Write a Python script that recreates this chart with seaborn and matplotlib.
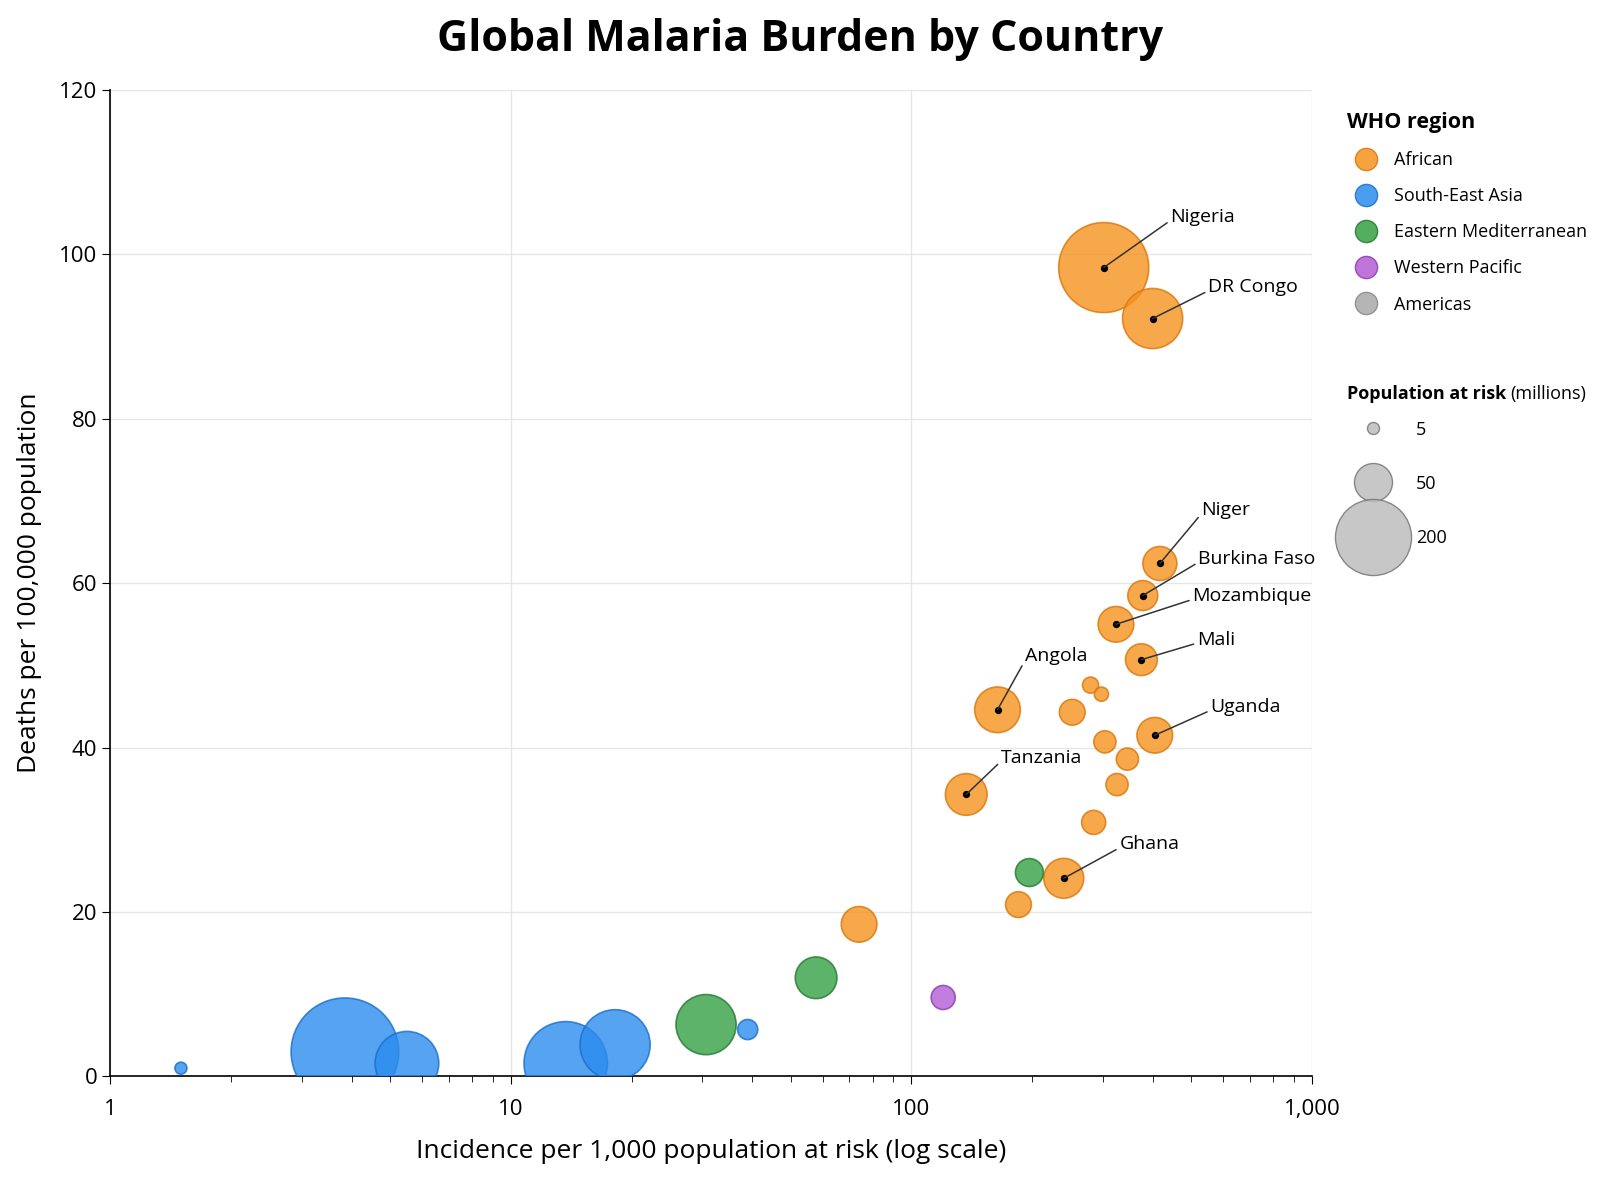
import numpy as np
import pandas as pd
import seaborn as sns
import matplotlib.pyplot as plt
from matplotlib.lines import Line2D

sns.set_style("whitegrid", {'text.color': 'black', 'axes.labelcolor': 'black',
                            'xtick.color': 'black', 'ytick.color': 'black'})
plt.rcParams['font.family'] = ['Open Sans', 'DejaVu Sans']

# data
country = ['', '', '', '', '', '',
           '', '', '', '',
           '', '', 'Ghana', '', '', 'Tanzania', '', '', 'Uganda', '', 'Angola', '', '',
           'Mali', 'Mozambique', 'Burkina Faso', 'Niger', 'DR Congo', 'Nigeria']
region = ['South-East Asia'] * 6 + ['Eastern Mediterranean'] * 3 + ['Western Pacific'] + ['African'] * 19
incidence = [1.5, 3.85, 5.5, 13.7, 18.2, 39,
             30.7, 57.8, 197, 120,
             74, 185, 240, 285, 326, 137, 304, 346, 405, 252, 164, 280, 298,
             375, 324, 378, 417, 400, 302]
deaths = [1.0, 3.0, 1.6, 1.6, 3.85, 5.7,
          6.3, 12.0, 24.8, 9.6,
          18.5, 20.9, 24.1, 30.9, 35.5, 34.3, 40.7, 38.6, 41.5, 44.3, 44.6, 47.6, 46.5,
          50.7, 55.0, 58.5, 62.4, 92.2, 98.4]
pop_risk = [5, 400, 140, 240, 170, 14,
            125, 60, 27, 20,
            44, 23, 55, 20, 17, 60, 17, 17, 44, 23, 72, 9, 7,
            35, 44, 31, 40, 125, 280]

# label offsets (points)
offsets = {'Nigeria': (48, 30), 'DR Congo': (40, 16), 'Niger': (30, 32), 'Burkina Faso': (40, 20),
           'Mozambique': (55, 14), 'Mali': (40, 8), 'Uganda': (40, 14), 'Angola': (20, 32),
           'Tanzania': (25, 20), 'Ghana': (40, 18)}

colors = {'African': '#F5921E', 'South-East Asia': '#2B8CEE', 'Eastern Mediterranean': '#35A043',
          'Western Pacific': '#B45CD6', 'Americas': '#A8A8A8'}
edges = {'African': '#D9770A', 'South-East Asia': '#1A6FCC', 'Eastern Mediterranean': '#247A30',
         'Western Pacific': '#8A3DAD', 'Americas': '#888888'}

df = pd.DataFrame({'country': country, 'region': region, 'inc': incidence,
                   'deaths': deaths, 'pop': pop_risk})
df = df.sort_values('pop', ascending=False)

K = 15.0  # marker area per million
fig = plt.figure(figsize=(16, 12), dpi=100)
ax = fig.add_axes([0.069, 0.103, 0.751, 0.822])
sns.scatterplot(data=df, x='inc', y='deaths', hue='region', palette=colors, size='pop',
                sizes=(K * df['pop'].min(), K * df['pop'].max()), legend=False,
                edgecolor=[edges[r] for r in df['region']], linewidth=1.2, alpha=0.8,
                zorder=3, ax=ax)

for _, row in df[df['country'] != ''].iterrows():
    ax.scatter(row['inc'], row['deaths'], s=18, color='black', zorder=5)
    ax.annotate(row['country'], (row['inc'], row['deaths']), xytext=offsets[row['country']],
                textcoords='offset points', fontsize=14, va='bottom', ha='left',
                arrowprops=dict(arrowstyle='-', color='#333333', lw=1.1,
                                shrinkA=0, shrinkB=0, relpos=(0, 0.3)), zorder=6)

ax.set_xscale('log')
ax.set_xlim(1, 1000)
ax.set_ylim(0, 120)
ax.set_xticks([1, 10, 100, 1000])
ax.set_xticklabels(['1', '10', '100', '1,000'])
ax.set_yticks(range(0, 121, 20))
ax.tick_params(labelsize=16)
ax.tick_params(axis='x', which='both', bottom=True, length=6, pad=10)
ax.tick_params(axis='x', which='minor', length=4)
ax.tick_params(axis='y', left=True, length=6)
ax.grid(True, which='major', color='#E6E6E6', lw=1)
ax.grid(False, which='minor')
for s in ['top', 'right']:
    ax.spines[s].set_visible(False)
for s in ['left', 'bottom']:
    ax.spines[s].set_color('black')
    ax.spines[s].set_linewidth(1.2)
ax.set_xlabel('Incidence per 1,000 population at risk (log scale)', fontsize=19, labelpad=14)
ax.set_ylabel('Deaths per 100,000 population', fontsize=19, labelpad=12)
fig.suptitle('Global Malaria Burden by Country', fontsize=31, fontweight='bold', y=0.985)

handles = [Line2D([], [], marker='o', ls='', markersize=16, markerfacecolor=colors[r],
                  markeredgecolor=edges[r], alpha=0.85, label=r) for r in colors]
leg1 = fig.legend(handles=handles, title='WHO region', loc='upper left',
                  bbox_to_anchor=(0.832, 0.92), frameon=False, fontsize=13,
                  title_fontproperties={'size': 15.5, 'weight': 'bold'}, labelspacing=1.0,
                  handletextpad=0.6)
leg1._legend_box.align = 'left'

# size legend title: bold part + normal part
t1 = fig.text(0.842, 0.672, 'Population at risk', fontsize=13, fontweight='bold', va='center')
fig.canvas.draw()
bb = t1.get_window_extent()
x2 = (bb.x1 + 4) / fig.bbox.width
fig.text(x2, 0.672, '(millions)', fontsize=13, va='center')

size_handles = [Line2D([], [], marker='o', ls='', markersize=np.sqrt(p * K),
                       markerfacecolor='#BDBDBD', markeredgecolor='#777777', alpha=0.85,
                       label=str(p)) for p in [5, 50, 200]]
leg2 = fig.legend(handles=size_handles, loc='upper left', bbox_to_anchor=(0.832, 0.66),
                  frameon=False, fontsize=13, labelspacing=2.0, handletextpad=0.8,
                  borderpad=0.2, handlelength=3.2)

fig.savefig('out.png', dpi=100)
